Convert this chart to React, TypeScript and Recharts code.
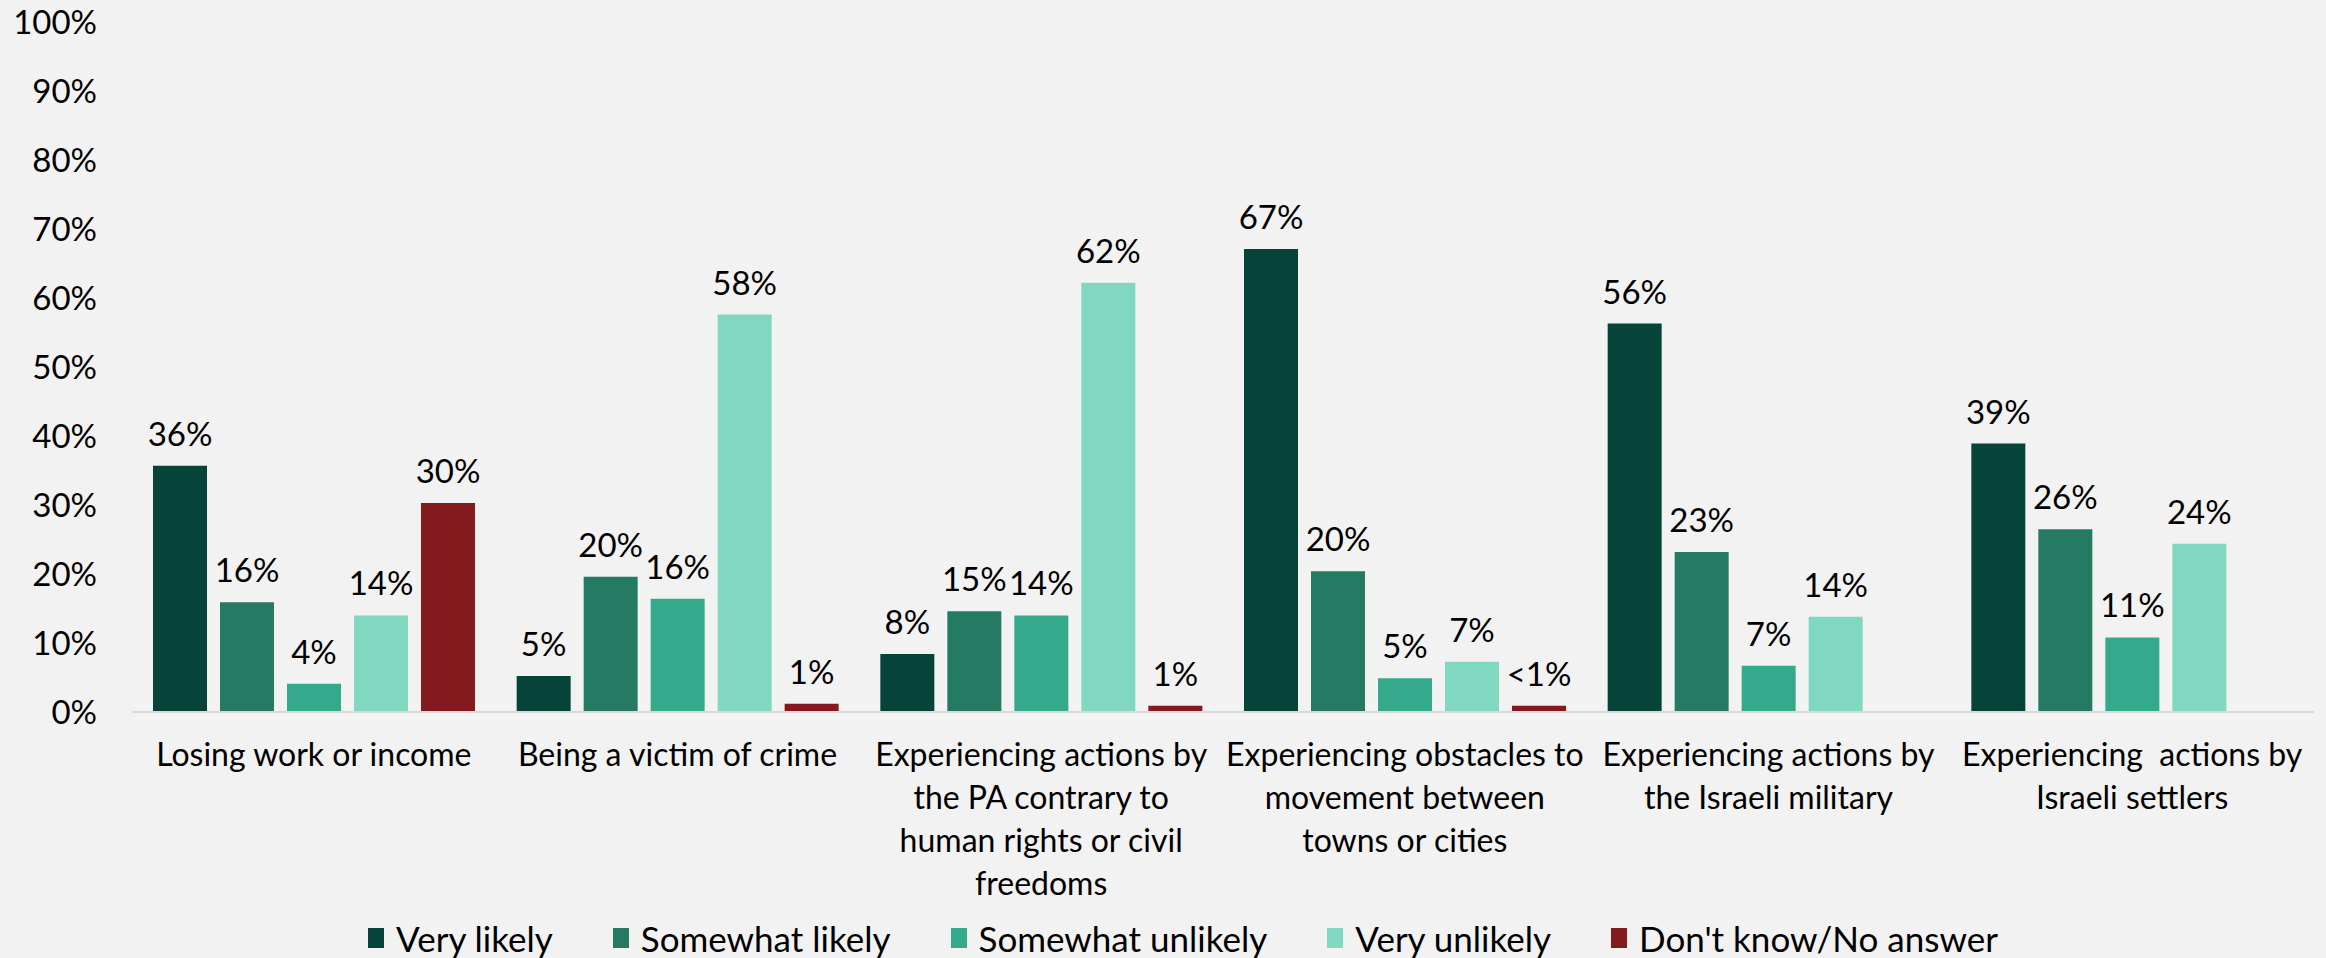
import { BarChart, Bar, XAxis, YAxis, Legend, LabelList } from 'recharts';

const CATEGORIES = [
  'Losing work or income',
  'Being a victim of crime',
  'Experiencing actions by\nthe PA contrary to\nhuman rights or civil\nfreedoms',
  'Experiencing obstacles to\nmovement between\ntowns or cities',
  'Experiencing actions by\nthe Israeli military',
  'Experiencing  actions by\nIsraeli settlers',
];

const VERY_LIKELY = [35.7, 5.2, 8.4, 67.1, 56.3, 38.9];
const SOMEWHAT_LIKELY = [15.9, 19.6, 14.6, 20.4, 23.2, 26.5];
const SOMEWHAT_UNLIKELY = [4.1, 16.4, 14.0, 4.9, 6.7, 10.8];
const VERY_UNLIKELY = [14.0, 57.6, 62.2, 7.3, 13.8, 24.4];
const DONT_KNOW = [30.3, 1.2, 0.9, 0.9, null, null];

const VERY_LIKELY_LABELS = ['36%', '5%', '8%', '67%', '56%', '39%'];
const SOMEWHAT_LIKELY_LABELS = ['16%', '20%', '15%', '20%', '23%', '26%'];
const SOMEWHAT_UNLIKELY_LABELS = ['4%', '16%', '14%', '5%', '7%', '11%'];
const VERY_UNLIKELY_LABELS = ['14%', '58%', '62%', '7%', '14%', '24%'];
const DONT_KNOW_LABELS = ['30%', '1%', '1%', '<1%', null, null];

const Y_TICKS = [0, 10, 20, 30, 40, 50, 60, 70, 80, 90, 100];

const SERIES = [
  { key: 'veryLikely', name: 'Very likely', color: '#06443a', values: VERY_LIKELY, labels: VERY_LIKELY_LABELS },
  { key: 'somewhatLikely', name: 'Somewhat likely', color: '#247a63', values: SOMEWHAT_LIKELY, labels: SOMEWHAT_LIKELY_LABELS },
  { key: 'somewhatUnlikely', name: 'Somewhat unlikely', color: '#35a98b', values: SOMEWHAT_UNLIKELY, labels: SOMEWHAT_UNLIKELY_LABELS },
  { key: 'veryUnlikely', name: 'Very unlikely', color: '#80d8c0', values: VERY_UNLIKELY, labels: VERY_UNLIKELY_LABELS },
  { key: 'dontKnow', name: "Don't know/No answer", color: '#84191e', values: DONT_KNOW, labels: DONT_KNOW_LABELS },
];

const data = CATEGORIES.map((name, i) => {
  const row: Record<string, any> = { name };
  SERIES.forEach((s) => {
    row[s.key] = s.values[i];
    row[s.key + 'Label'] = s.labels[i];
  });
  return row;
});

const FONT = 'Lato, "Noto Sans", sans-serif';
const FONT_SIZE = 33;

function CategoryTick(props: any) {
  const { x, y, payload } = props;
  const lines = String(payload.value).split('\n');
  return (
    <text x={x} y={y} textAnchor="middle" fill="#000" fontFamily={FONT} fontSize={32} style={{ whiteSpace: 'pre' }}>
      {lines.map((line, i) => (
        <tspan key={i} x={x} dy={i === 0 ? 46 : 43}>{line}</tspan>
      ))}
    </text>
  );
}

function LegendContent() {
  return (
    <div style={{ display: 'flex', justifyContent: 'center', alignItems: 'center', gap: 60, height: 40, paddingLeft: 52, fontFamily: FONT, fontSize: 35, color: '#000' }}>
      {SERIES.map((s) => (
        <div key={s.key} style={{ display: 'flex', alignItems: 'center' }}>
          <span style={{ width: 16, height: 20, background: s.color, marginRight: 12, display: 'inline-block' }} />
          <span>{s.name}</span>
        </div>
      ))}
    </div>
  );
}

export default function App() {
  return (
    <div style={{ width: 2326, height: 958, background: '#f2f2f2', position: 'absolute', left: 0, top: 0 }}>
      <style>{'body{margin:0}'}</style>
      <BarChart
        width={2326}
        height={958}
        data={data}
        margin={{ top: 22, right: 12, bottom: 0, left: 0 }}
        barSize={54}
        barGap={13}
      >
        <XAxis
          dataKey="name"
          interval={0}
          height={206}
          tickLine={false}
          axisLine={{ stroke: '#d9d9d9', strokeWidth: 2 }}
          tick={<CategoryTick />}
        />
        <YAxis
          width={132}
          domain={[0, 100]}
          ticks={Y_TICKS}
          axisLine={false}
          tickLine={false}
          tickSize={0}
          tickMargin={35}
          tickFormatter={(v) => v + '%'}
          tick={{ fill: '#000', fontFamily: FONT, fontSize: FONT_SIZE }}
        />
        <Legend verticalAlign="bottom" content={<LegendContent />} />
        {SERIES.map((s) => (
          <Bar key={s.key} dataKey={s.key} name={s.name} fill={s.color} isAnimationActive={false}>
            <LabelList
              dataKey={s.key + 'Label'}
              position="top"
              offset={20}
              fill="#000"
              fontFamily={FONT}
              fontSize={FONT_SIZE}
            />
          </Bar>
        ))}
      </BarChart>
    </div>
  );
}
